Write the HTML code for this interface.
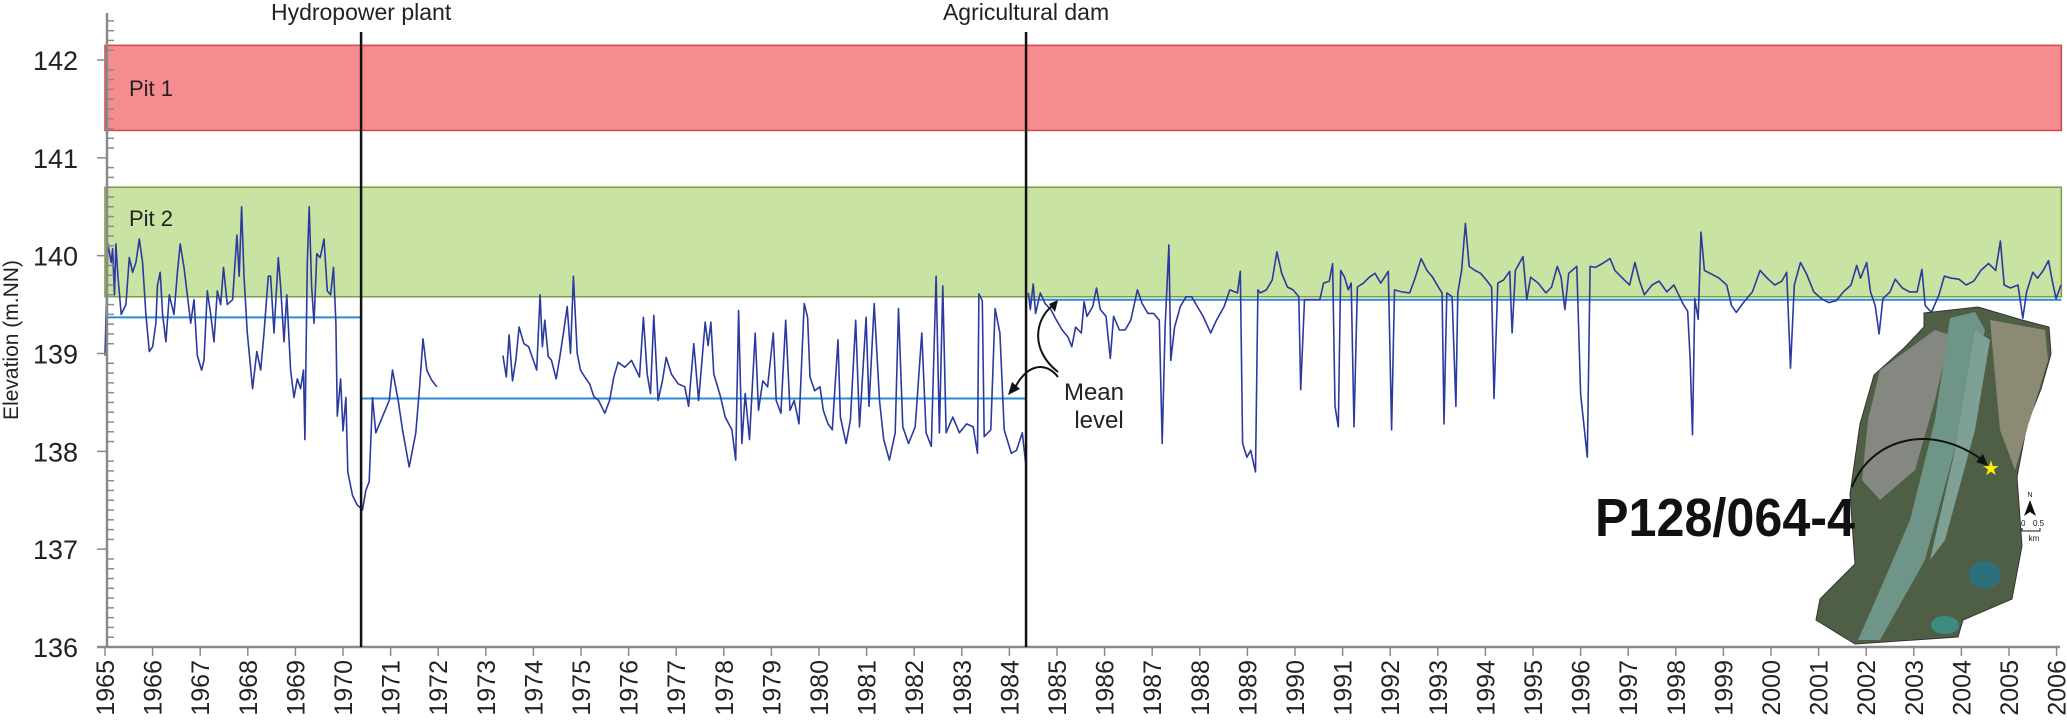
<!DOCTYPE html>
<html><head><meta charset="utf-8"><style>
html,body{margin:0;padding:0;background:#fff;}
svg{display:block;font-family:"Liberation Sans",Arial,sans-serif;}
</style></head><body>
<svg id="chart" width="2067" height="727" viewBox="0 0 2067 727" xmlns="http://www.w3.org/2000/svg">
<g id="bands"></g><g id="means"></g><g id="series"></g><g id="axes"></g><g id="annot"></g><g id="inset"></g>
</svg>
<script>
const yearTicks=[1965,1966,1967,1968,1969,1970,1971,1972,1973,1974,1975,1976,1977,1978,1979,1980,1981,1982,1983,1984,1985,1986,1987,1988,1989,1990,1991,1992,1993,1994,1995,1996,1997,1998,1999,2000,2001,2002,2003,2004,2005,2006];
const elevTicks=[136,137,138,139,140,141,142];
const pitNames=["Pit 1","Pit 2"];
const pitTop=[142.15,140.7];
const pitBottom=[141.28,139.58];
const meanStart=[1965.0,1970.4,1984.4];
const meanEnd=[1970.38,1984.35,2006.1];
const meanLevel=[139.37,138.54,139.55];
const eventNames=["Hydropower plant","Agricultural dam"];
const eventYears=[1970.38,1984.35];
// series segments (null = gap)
const obsYears=[1965.00,1965.06,1965.13,1965.16,1965.20,1965.23,1965.27,1965.34,1965.44,1965.51,1965.58,1965.65,1965.72,1965.79,1965.86,1965.93,1966.00,1966.07,1966.10,1966.16,1966.21,1966.28,1966.35,1966.45,1966.52,1966.58,1966.66,1966.73,1966.80,1966.87,1966.94,1967.03,1967.08,1967.15,1967.22,1967.29,1967.36,1967.43,1967.49,1967.57,1967.68,1967.77,1967.82,1967.87,1967.92,1967.99,1968.10,1968.19,1968.27,1968.34,1968.43,1968.48,1968.55,1968.64,1968.69,1968.76,1968.82,1968.90,1968.97,1969.04,1969.11,1969.17,1969.20,1969.25,1969.29,1969.34,1969.39,1969.45,1969.52,1969.60,1969.67,1969.74,1969.80,1969.85,1969.88,1969.95,1970.00,1970.06,1970.10,1970.20,1970.30,1970.41,1970.48,1970.55,1970.62,1970.69,1970.97,1971.04,1971.16,1971.25,1971.39,1971.53,1971.61,1971.68,1971.76,1971.86,1971.97,
1972.5,
1973.36,1973.43,1973.49,1973.56,1973.63,1973.70,1973.80,1973.90,1974.00,1974.07,1974.14,1974.19,1974.24,1974.31,1974.38,1974.48,1974.55,1974.64,1974.71,1974.78,1974.84,1974.92,1974.99,1975.08,1975.18,1975.27,1975.37,1975.50,1975.60,1975.69,1975.78,1975.92,1976.06,1976.16,1976.23,1976.31,1976.39,1976.46,1976.53,1976.62,1976.71,1976.79,1976.90,1977.04,1977.18,1977.26,1977.37,1977.47,1977.61,1977.67,1977.73,1977.79,1977.93,1978.03,1978.17,1978.25,1978.31,1978.38,1978.45,1978.54,1978.66,1978.73,1978.82,1978.92,1979.04,1979.10,1979.20,1979.30,1979.39,1979.48,1979.58,1979.69,1979.76,1979.81,1979.91,1980.02,1980.09,1980.19,1980.28,1980.40,1980.45,1980.57,1980.66,1980.77,1980.85,1980.99,1981.05,1981.16,1981.27,1981.36,1981.48,1981.60,1981.67,1981.76,1981.88,1982.02,1982.16,1982.25,1982.36,1982.46,1982.53,1982.60,1982.67,1982.81,1982.95,1983.10,1983.24,1983.33,1983.36,1983.43,1983.47,1983.61,1983.70,1983.80,1983.89,1984.04,1984.15,1984.27,1984.35,
1984.37,
1984.40,1984.44,1984.50,1984.55,1984.65,1984.75,1984.87,1984.99,1985.11,1985.23,1985.31,1985.39,1985.51,1985.57,1985.63,1985.75,1985.83,1985.91,1986.03,1986.12,1986.19,1986.31,1986.43,1986.55,1986.69,1986.79,1986.91,1987.03,1987.15,1987.21,1987.27,1987.35,1987.39,1987.47,1987.59,1987.71,1987.83,1987.95,1988.07,1988.23,1988.35,1988.51,1988.63,1988.79,1988.85,1988.90,1988.99,1989.07,1989.17,1989.22,1989.27,1989.40,1989.52,1989.62,1989.72,1989.84,1989.96,1990.08,1990.12,1990.20,1990.36,1990.52,1990.60,1990.72,1990.79,1990.84,1990.91,1990.96,1991.04,1991.12,1991.18,1991.24,1991.31,1991.44,1991.56,1991.68,1991.80,1991.96,1992.03,1992.09,1992.25,1992.41,1992.53,1992.65,1992.77,1992.89,1993.01,1993.09,1993.13,1993.19,1993.30,1993.38,1993.42,1993.50,1993.58,1993.66,1993.78,1993.90,1994.02,1994.13,1994.18,1994.26,1994.38,1994.51,1994.56,1994.63,1994.79,1994.87,1994.95,1995.11,1995.27,1995.39,1995.51,1995.59,1995.67,1995.75,1995.92,1996.00,1996.08,1996.14,1996.20,1996.31,1996.46,1996.62,1996.72,1996.88,1997.03,1997.14,1997.24,1997.34,1997.50,1997.65,1997.81,1997.96,1998.06,1998.15,1998.25,1998.30,1998.35,1998.40,1998.47,1998.53,1998.60,1998.76,1998.91,1999.07,1999.17,1999.27,1999.42,1999.61,1999.77,1999.92,2000.08,2000.23,2000.33,2000.41,2000.49,2000.62,2000.75,2000.90,2001.06,2001.21,2001.37,2001.52,2001.68,2001.80,2001.88,2002.01,2002.09,2002.19,2002.27,2002.35,2002.50,2002.61,2002.76,2002.91,2003.07,2003.17,2003.24,2003.37,2003.53,2003.64,2003.79,2003.95,2004.10,2004.26,2004.41,2004.57,2004.72,2004.82,2004.90,2005.03,2005.19,2005.29,2005.37,2005.50,2005.60,2005.72,2005.83,2005.91,2005.99,2006.09];
const obsLevels=[138.98,140.12,139.93,140.07,139.60,140.12,139.79,139.40,139.50,139.98,139.83,139.93,140.17,139.93,139.40,139.02,139.07,139.31,139.69,139.83,139.40,139.12,139.60,139.40,139.83,140.12,139.88,139.60,139.31,139.55,138.98,138.83,138.93,139.64,139.40,139.12,139.64,139.50,139.88,139.50,139.55,140.21,139.79,140.50,139.79,139.21,138.64,139.02,138.83,139.21,139.79,139.79,139.21,139.98,139.69,139.12,139.60,138.83,138.55,138.74,138.64,138.83,138.12,139.93,140.50,139.69,139.31,140.02,139.98,140.17,139.64,139.60,139.88,139.31,138.36,138.74,138.21,138.55,137.79,137.55,137.45,137.40,137.60,137.69,138.55,138.19,138.52,138.83,138.52,138.22,137.84,138.19,138.66,139.15,138.83,138.73,138.66,
null,
138.98,138.76,139.19,138.72,138.93,139.27,139.10,139.07,138.93,138.83,139.60,139.07,139.34,138.97,138.93,138.74,138.95,139.24,139.48,139.00,139.79,139.00,138.83,138.76,138.69,138.56,138.52,138.39,138.52,138.76,138.91,138.86,138.93,138.83,138.76,139.37,138.79,138.59,139.39,138.52,138.72,138.96,138.79,138.69,138.66,138.46,139.10,138.52,139.32,139.08,139.32,138.79,138.56,138.35,138.22,137.91,139.44,138.08,138.59,138.12,139.21,138.42,138.72,138.66,139.21,138.52,138.39,139.34,138.42,138.52,138.28,139.51,139.37,138.76,138.62,138.66,138.42,138.28,138.22,139.14,138.35,138.08,138.32,139.34,138.25,139.37,138.46,139.51,138.52,138.12,137.91,138.19,139.46,138.25,138.08,138.25,139.21,138.19,138.05,139.79,138.19,139.69,138.19,138.35,138.19,138.28,138.25,137.98,139.61,139.54,138.15,138.22,139.46,139.21,138.22,137.98,138.01,138.19,137.84,
null,
139.62,139.45,139.71,139.41,139.62,139.51,139.45,139.34,139.24,139.17,139.07,139.27,139.21,139.53,139.38,139.48,139.67,139.45,139.38,138.95,139.38,139.24,139.24,139.34,139.65,139.51,139.41,139.41,139.34,138.08,139.27,140.11,138.93,139.27,139.48,139.58,139.58,139.48,139.38,139.21,139.34,139.48,139.65,139.62,139.84,138.08,137.94,138.01,137.79,139.65,139.62,139.65,139.75,140.04,139.82,139.68,139.65,139.58,138.63,139.55,139.55,139.55,139.72,139.74,139.92,138.46,138.25,139.85,139.78,139.65,139.72,138.25,139.68,139.72,139.78,139.82,139.72,139.84,138.22,139.65,139.63,139.62,139.78,139.97,139.85,139.78,139.68,139.62,138.28,139.62,139.58,138.46,139.62,139.85,140.33,139.89,139.85,139.82,139.75,139.68,138.54,139.72,139.75,139.84,139.21,139.85,139.99,139.55,139.78,139.72,139.62,139.68,139.89,139.78,139.45,139.82,139.89,138.59,138.22,137.94,139.89,139.88,139.92,139.97,139.85,139.77,139.70,139.93,139.74,139.60,139.70,139.74,139.63,139.70,139.60,139.51,139.43,138.95,138.17,139.56,139.35,140.24,139.85,139.81,139.77,139.70,139.49,139.42,139.52,139.63,139.85,139.77,139.70,139.74,139.83,138.85,139.70,139.93,139.81,139.63,139.56,139.52,139.54,139.63,139.70,139.90,139.77,139.93,139.63,139.49,139.20,139.56,139.63,139.76,139.67,139.63,139.63,139.86,139.49,139.42,139.60,139.79,139.77,139.76,139.70,139.74,139.85,139.92,139.85,140.15,139.70,139.67,139.70,139.36,139.63,139.83,139.77,139.85,139.95,139.74,139.56,139.70];

const NS='http://www.w3.org/2000/svg';
const X0=105, PX_YEAR=47.6, Y136=647, PX_UNIT=97.83;
function xs(yr){return X0+(yr-1965)*PX_YEAR;}
function ys(v){return Y136-(v-136)*PX_UNIT;}
function mk(tag,attrs,parent,text){const e=document.createElementNS(NS,tag);for(const k in attrs)e.setAttribute(k,attrs[k]);if(text!==undefined)e.textContent=text;document.getElementById(parent).appendChild(e);return e;}

// bands
const bandFill=['#f58c90','#c9e3a3'], bandStroke=['#d2484a','#7c9e44'];
pitNames.forEach((n,i)=>{
  const r=mk('rect',{x:xs(1965),y:ys(pitTop[i]),width:xs(2006.1)-xs(1965),height:ys(pitBottom[i])-ys(pitTop[i]),fill:bandFill[i],stroke:bandStroke[i],'stroke-width':1.5},'bands');
  
  
  const t=mk('text',{x:129,y:(ys(pitTop[i])+ys(pitBottom[i]))/2+(i==0?0:-24)+8,'font-size':22,fill:'#222'},'bands',n);
  
  
});
// mean lines
meanLevel.forEach((m,i)=>{
  const l=mk('line',{x1:xs(meanStart[i]),x2:xs(meanEnd[i]),y1:ys(m),y2:ys(m),stroke:'#2a8ad2','stroke-width':2},'means');
  
  
});
// series
let d='',pen=false;
obsYears.forEach((yr,i)=>{const v=obsLevels[i];if(v===null){pen=false;return;}d+=(pen?'L':'M')+xs(yr).toFixed(1)+','+ys(v).toFixed(1);pen=true;});
const p=mk('path',{d:d,fill:'none',stroke:'#2b3a9f','stroke-width':1.6,'stroke-linejoin':'round'},'series');


// events
eventYears.forEach((yr,i)=>{
  const l=mk('line',{x1:xs(yr),x2:xs(yr),y1:32,y2:Y136,stroke:'#111','stroke-width':2.5},'annot');
  
  
  const t=mk('text',{x:xs(yr),y:20,'font-size':23,'text-anchor':'middle',fill:'#222'},'annot',eventNames[i]);
  
  
});
// axes
const ax=mk('line',{x1:107,x2:107,y1:13,y2:Y136,stroke:'#8a8a8a','stroke-width':2.5},'axes');


const xa=mk('line',{x1:97,x2:2060,y1:Y136,y2:Y136,stroke:'#8a8a8a','stroke-width':2.5},'axes');


for(let k=0;k<=64;k++){const v=136+k*0.1;const y=ys(v);if(y<14)break;const major=k%10==0;mk('line',{x1:major?97:107,x2:major?107:114,y1:y,y2:y,stroke:'#8a8a8a','stroke-width':1.5},'axes');}
elevTicks.forEach(v=>{
  const t=mk('text',{x:78,y:ys(v)+10,'font-size':27,'text-anchor':'end',fill:'#222'},'axes',String(v));
  
  
});
yearTicks.forEach(yr=>{
  const x=xs(yr);
  mk('line',{x1:x,x2:x,y1:Y136,y2:Y136+9,stroke:'#8a8a8a','stroke-width':1.5},'axes');
  const t=mk('text',{x:0,y:0,'font-size':25,'text-anchor':'end',fill:'#222',transform:'translate('+(x+9)+','+(Y136+13)+') rotate(-90)'},'axes',String(yr));
  
  
});
const yt=mk('text',{x:0,y:0,'font-size':21,'text-anchor':'middle',fill:'#222',transform:'translate(18,340) rotate(-90)'},'axes','Elevation (m.NN)');


</script>
<script>
(function(){
const NS='http://www.w3.org/2000/svg';
function mk(tag,attrs,parent,text){const e=document.createElementNS(NS,tag);for(const k in attrs)e.setAttribute(k,attrs[k]);if(text!==undefined)e.textContent=text;document.getElementById(parent).appendChild(e);return e;}
// mean level annotation
const ml=mk('text',{x:1094,y:400,'font-size':24,'text-anchor':'middle',fill:'#222'},'annot','Mean');


mk('text',{x:1099,y:428,'font-size':24,'text-anchor':'middle',fill:'#222'},'annot','level');
mk('path',{d:'M1058,377 C1045,360 1025,365 1014,390',fill:'none',stroke:'#111','stroke-width':2},'annot');
mk('path',{d:'M1008,395 L1012,382 L1020,389 Z',fill:'#111'},'annot');
mk('path',{d:'M1058,372 C1030,350 1035,320 1052,306',fill:'none',stroke:'#111','stroke-width':2},'annot');
mk('path',{d:'M1058,300 L1049,304 L1055,312 Z',fill:'#111'},'annot');
// inset map
const poly=mk('polygon',{points:'1924,313 1978,307 2022,320 2049,327 2051,354 2041,389 2027,424 2017,477 2022,546 2012,599 1963,620 1958,637 1855,644 1816,620 1820,599 1855,564 1850,494 1860,424 1874,375 1904,348 1924,327',fill:'#4f5f45',stroke:'#333','stroke-width':1},'inset');


mk('polygon',{points:'1880,370 1935,330 1950,335 1935,400 1915,470 1880,500 1862,480 1868,420',fill:'#8d8f8c',opacity:'0.85'},'inset');
mk('polygon',{points:'1990,320 2045,330 2048,360 2030,420 2015,470 2000,430',fill:'#9b957f',opacity:'0.8'},'inset');
mk('polygon',{points:'1950,318 1975,312 1985,330 1960,430 1925,560 1880,640 1858,640 1880,590 1910,520 1935,420',fill:'#6f9488'},'inset');
mk('polygon',{points:'1975,330 1990,340 1975,430 1945,540 1930,560 1955,450',fill:'#7fa094'},'inset');
mk('ellipse',{cx:1985,cy:575,rx:16,ry:14,fill:'#2e6f7c'},'inset');
mk('ellipse',{cx:1945,cy:625,rx:14,ry:9,fill:'#3e8a80'},'inset');
mk('path',{d:'M1852,487 C1870,440 1930,420 1985,462',fill:'none',stroke:'#111','stroke-width':2},'inset');
mk('path',{d:'M1988,466 L1976,462 L1983,454 Z',fill:'#111'},'inset');
const star=mk('text',{x:1991,y:475,'font-size':20,'text-anchor':'middle',fill:'#ffee00'},'inset','★');


const lbl=mk('text',{x:1595,y:536,'font-size':54,'font-weight':'bold','font-family':'"Liberation Sans Narrow","Liberation Sans",sans-serif',fill:'#111',textLength:260,lengthAdjust:'spacingAndGlyphs'},'inset','P128/064-4');


mk('path',{d:'M2030,500 L2036,516 L2030,512 L2024,516 Z',fill:'#111'},'inset');
mk('text',{x:2030,y:497,'font-size':7,'text-anchor':'middle',fill:'#111'},'inset','N');
mk('text',{x:2021,y:526,'font-size':8,fill:'#111'},'inset','0');
mk('text',{x:2033,y:526,'font-size':8,fill:'#111'},'inset','0.5');
mk('path',{d:'M2022,528 L2022,531 L2040,531 L2040,528',fill:'none',stroke:'#111','stroke-width':1},'inset');
mk('text',{x:2034,y:541,'font-size':8,'text-anchor':'middle',fill:'#111'},'inset','km');
})();
</script>
</body></html>
